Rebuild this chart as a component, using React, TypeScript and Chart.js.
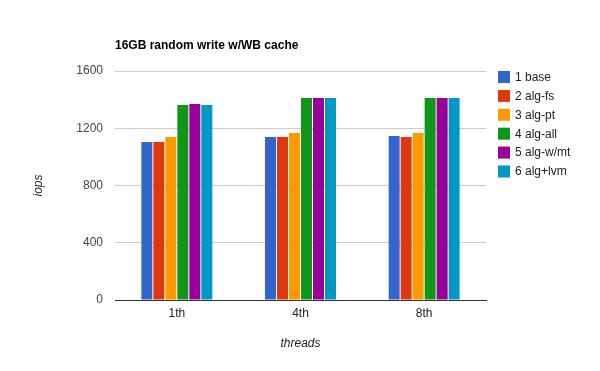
import React, { useEffect, useRef } from "react";
import { Chart, registerables } from "chart.js";

Chart.register(...registerables);

const titleText = "16GB random write w/WB cache";
const xTitle = "threads";
const yTitle = "iops";
const categories = ["1th", "4th", "8th"];
const seriesNames = ["1 base", "2 alg-fs", "3 alg-pt", "4 alg-all", "5 alg-w/mt", "6 alg+lvm"];
const seriesColors = ["#3366cc", "#dc3912", "#ff9900", "#109618", "#990099", "#0099c6"];
const base = [1104, 1139, 1146];
const algFs = [1104, 1139, 1139];
const algPt = [1139, 1167, 1167];
const algAll = [1362, 1411, 1411];
const algWmt = [1369, 1411, 1411];
const algLvm = [1362, 1411, 1411];
const seriesValues = [base, algFs, algPt, algAll, algWmt, algLvm];
const yMin = 0;
const yMax = 1600;
const yStep = 400;

const FONT = "'Liberation Sans', Arial, sans-serif";

const overlayPlugin = {
  id: "overlay",
  afterDraw(chart: any) {
    const ctx = chart.ctx;
    const area = chart.chartArea;
    ctx.save();
    ctx.fillStyle = "#000";
    ctx.font = `bold 12px ${FONT}`;
    ctx.textAlign = "left";
    ctx.textBaseline = "middle";
    ctx.fillText(titleText, area.left, 46);
    // legend
    const lx = area.right + 12;
    ctx.font = `12px ${FONT}`;
    seriesNames.forEach((name, i) => {
      const cy = 77 + i * 18.9;
      ctx.fillStyle = seriesColors[i];
      ctx.fillRect(lx, cy - 6, 12, 12);
      ctx.fillStyle = "#222";
      ctx.fillText(name, lx + 17, cy + 0.5);
    });
    ctx.restore();
  },
};

export default function App() {
  const ref = useRef<HTMLCanvasElement | null>(null);
  useEffect(() => {
    document.body.style.margin = "0";
    const canvas = ref.current!;
    const chart = new Chart(canvas, {
      type: "bar",
      data: {
        labels: categories,
        datasets: seriesNames.map((name, i) => ({
          label: name,
          data: seriesValues[i],
          backgroundColor: seriesColors[i],
          borderWidth: 0,
          categoryPercentage: 0.582,
          barPercentage: 0.917,
        })),
      },
      options: {
        responsive: false,
        animation: false,
        devicePixelRatio: 1,
        layout: { padding: { top: 71, right: 114, left: 0, bottom: 0 } },
        plugins: {
          legend: { display: false },
          title: { display: false },
          tooltip: { enabled: false },
        },
        scales: {
          x: {
            afterFit: (s: any) => {
              s.height = 71;
            },
            grid: { display: false, drawTicks: false },
            border: { display: true, color: "#333", width: 1 },
            ticks: {
              color: "#222",
              font: { family: FONT, size: 12 },
              padding: 6,
            },
            title: {
              display: true,
              text: xTitle,
              color: "#222",
              font: { family: FONT, size: 12, style: "italic" },
              padding: { top: 0, bottom: 20 },
            },
          },
          y: {
            min: yMin,
            max: yMax,
            afterFit: (s: any) => {
              s.width = 115;
            },
            grid: {
              drawTicks: false,
              color: (c: any) => (c.tick && c.tick.value === 0 ? "rgba(0,0,0,0)" : "#cccccc"),
              lineWidth: 1,
            },
            border: { display: false },
            ticks: {
              stepSize: yStep,
              color: "#444",
              font: { family: FONT, size: 12 },
              padding: 12,
              callback: (v: any) => String(v),
            },
            title: {
              display: true,
              text: yTitle,
              color: "#222",
              font: { family: FONT, size: 12, style: "italic" },
              padding: { top: 31, bottom: 0 },
            },
          },
        },
      },
      plugins: [overlayPlugin],
    });
    return () => chart.destroy();
  }, []);
  return (
    <div style={{ width: 600, height: 371, background: "#fff" }}>
      <canvas ref={ref} width={600} height={371} style={{ width: 600, height: 371, display: "block" }} />
    </div>
  );
}
